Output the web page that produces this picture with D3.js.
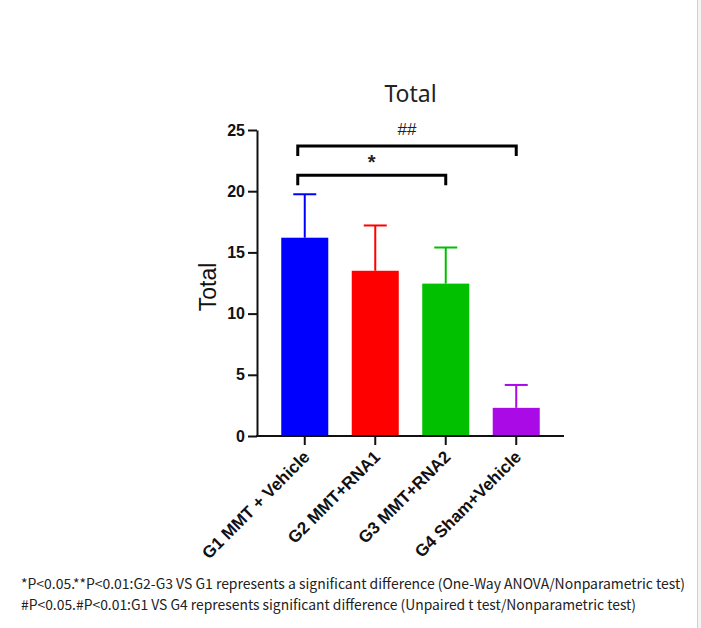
<!DOCTYPE html>
<html>
<head>
<meta charset="utf-8">
<script src="https://cdn.jsdelivr.net/npm/d3@7"></script>
<style>
html,body{margin:0;padding:0;background:#fff;}
svg{display:block;}
</style>
</head>
<body>
<svg id="chart" width="701" height="628"></svg>
<script>
const categories = ["G1 MMT + Vehicle", "G2 MMT+RNA1", "G3 MMT+RNA2", "G4 Sham+Vehicle"];
const means = [16.2, 13.5, 12.45, 2.3];
const errors = [3.55, 3.7, 2.95, 1.87];
const colors = ["#0000ff", "#ff0000", "#00c000", "#aa0ae6"];
const yTicks = [0, 5, 10, 15, 20, 25];
const brackets = [
  {from: 0, to: 3, level: 23.7, label: "##"},
  {from: 0, to: 2, level: 21.3, label: "*"}
];
const notes = [
  "*P<0.05.**P<0.01:G2-G3 VS G1 represents a significant difference (One-Way ANOVA/Nonparametric test)",
  "#P<0.05.#P<0.01:G1 VS G4 represents significant difference (Unpaired t test/Nonparametric test)"
];

const svg = d3.select("#chart");
const pLeft = 257, pRight = 564, pTop = 130, pBottom = 436;

// right edge panel
svg.append("rect").attr("x", 697).attr("y", 0).attr("width", 4).attr("height", 628).attr("fill", "#f3f3f3");
svg.append("line").attr("x1", 697.5).attr("x2", 697.5).attr("y1", 0).attr("y2", 628).attr("stroke", "#cfcfcf").attr("stroke-width", 1);

const x = d3.scaleBand().domain(categories).range([pLeft, pRight]).paddingInner(0.333).paddingOuter(0.344);
const y = d3.scaleLinear().domain([0, 25]).range([pBottom, pTop]);

// bars
svg.selectAll("rect.bar").data(categories).enter().append("rect")
  .attr("class", "bar")
  .attr("x", d => x(d))
  .attr("width", x.bandwidth())
  .attr("y", (d, i) => y(means[i]))
  .attr("height", (d, i) => y(0) - y(means[i]))
  .attr("fill", (d, i) => colors[i]);

// error bars
const capW = 23;
categories.forEach((c, i) => {
  const cx = x(c) + x.bandwidth() / 2;
  const g = svg.append("g").attr("stroke", colors[i]).attr("stroke-width", 2);
  g.append("line").attr("x1", cx).attr("x2", cx).attr("y1", y(means[i])).attr("y2", y(means[i] + errors[i]));
  g.append("line").attr("x1", cx - capW / 2).attr("x2", cx + capW / 2)
    .attr("y1", y(means[i] + errors[i])).attr("y2", y(means[i] + errors[i]));
});

// y axis
const yAxis = svg.append("g").attr("transform", `translate(${pLeft},0)`)
  .call(d3.axisLeft(y).tickValues(yTicks).tickSize(9).tickSizeOuter(0).tickPadding(3));
yAxis.select(".domain").attr("stroke", "#111").attr("stroke-width", 2);
yAxis.selectAll(".tick line").attr("stroke", "#111").attr("stroke-width", 2);
yAxis.selectAll(".tick text").attr("font-family", "Liberation Sans, Arial, sans-serif")
  .attr("font-weight", "bold").attr("font-size", 16).attr("fill", "#111");

// x axis
const xAxis = svg.append("g").attr("transform", `translate(0,${pBottom})`)
  .call(d3.axisBottom(x).tickSize(9).tickSizeOuter(0).tickFormat(""));
xAxis.select(".domain").attr("stroke", "#111").attr("stroke-width", 2)
  .attr("d", `M${pLeft - 1},0H${pRight}`);
xAxis.selectAll(".tick line").attr("stroke", "#111").attr("stroke-width", 2);

// x labels
svg.selectAll("text.xlab").data(categories).enter().append("text")
  .attr("class", "xlab")
  .attr("transform", d => `translate(${x(d) + x.bandwidth() / 2 + 6},${pBottom + 22}) rotate(-45)`)
  .attr("text-anchor", "end")
  .attr("font-family", "Liberation Sans, Arial, sans-serif")
  .attr("font-weight", "bold").attr("font-size", 17).attr("fill", "#111")
  .text(d => d);

// brackets
const leftShift = 7;
brackets.forEach(b => {
  const x1 = x(categories[b.from]) + x.bandwidth() / 2 - leftShift;
  const x2 = x(categories[b.to]) + x.bandwidth() / 2;
  const yy = y(b.level);
  svg.append("path")
    .attr("d", `M${x1},${yy + 10}V${yy}H${x2}V${yy + 10}`)
    .attr("fill", "none").attr("stroke", "#000").attr("stroke-width", 3);
  svg.append("text")
    .attr("x", (x1 + x2) / 2).attr("y", b.label === "*" ? yy - 6 : yy - 11)
    .attr("text-anchor", "middle")
    .attr("font-family", "Liberation Sans, Arial, sans-serif")
    .attr("font-weight", b.label === "*" ? "bold" : "normal")
    .attr("font-size", b.label === "*" ? 20 : 17)
    .attr("fill", "#222")
    .text(b.label);
});

// title
svg.append("text").attr("x", (pLeft + pRight) / 2).attr("y", 102)
  .attr("text-anchor", "middle")
  .attr("font-family", "Noto Sans, sans-serif").attr("font-size", 23).attr("fill", "#222")
  .text("Total");

// y title
svg.append("text").attr("transform", `translate(216,287) rotate(-90)`)
  .attr("text-anchor", "middle")
  .attr("font-family", "Liberation Sans, Arial, sans-serif").attr("font-size", 23).attr("fill", "#111")
  .text("Total");

// notes
const noteY = [589, 610];
const noteW = [664, 615];
notes.forEach((t, i) => {
  svg.append("text").attr("x", 21).attr("y", noteY[i])
    .attr("font-family", "Noto Sans CJK SC, Noto Sans, sans-serif").attr("font-size", 14).attr("fill", "#222")
    .attr("textLength", noteW[i]).attr("lengthAdjust", "spacingAndGlyphs")
    .text(t);
});
</script>
</body>
</html>
